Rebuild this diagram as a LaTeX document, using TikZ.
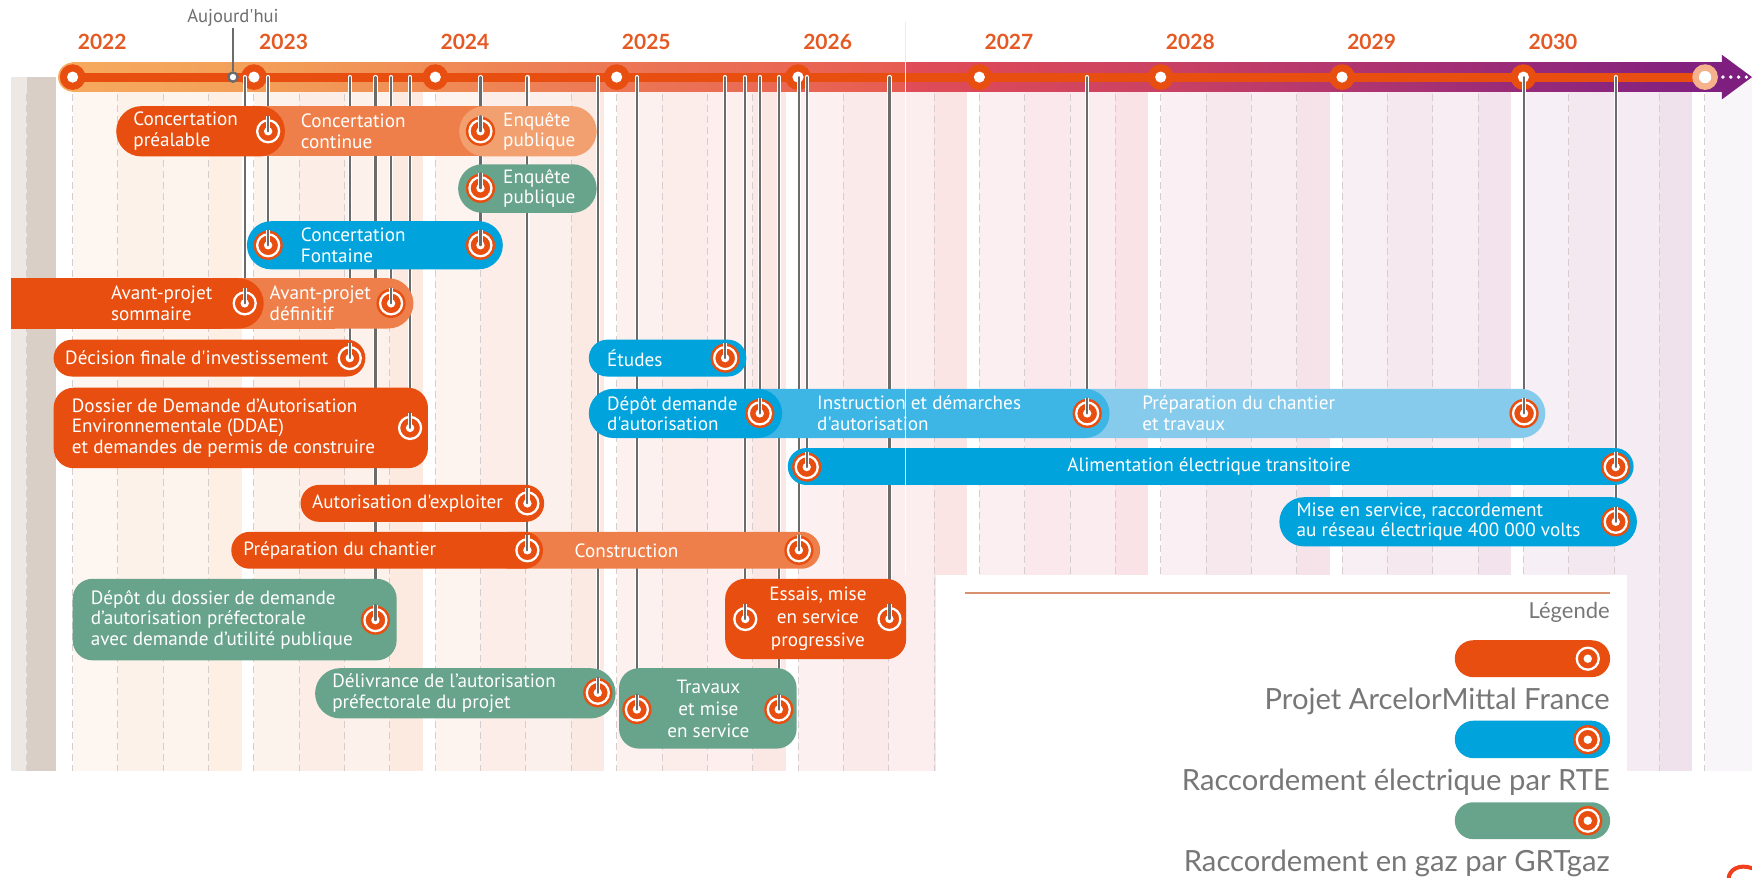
\documentclass[tikz,border=0pt]{standalone}
\usepackage{fontspec}
\setmainfont{PT Sans}[Ligatures=TeXOff]
\newfontfamily\latofont{Lato}[Ligatures=TeXOff]
\usetikzlibrary{calc}
\definecolor{aorange}{HTML}{E84E0F}
\definecolor{aorangem}{HTML}{EE7F4A}
\definecolor{aorangel}{HTML}{F2A06F}
\definecolor{agreen}{HTML}{68A38B}
\definecolor{ablue}{HTML}{00A3DC}
\definecolor{abluem}{HTML}{3DB5E5}
\definecolor{abluel}{HTML}{86CBEC}
\definecolor{lgray}{HTML}{6B6B6B}
\definecolor{txtgray}{HTML}{6E6E6E}
\definecolor{leggray}{HTML}{777777}
\definecolor{yearc}{HTML}{E55A24}
\definecolor{peach}{HTML}{F5B28C}
\definecolor{legline}{HTML}{D8906F}
\definecolor{logored}{HTML}{F0401E}
\definecolor{griddash}{HTML}{D6CECE}
\definecolor{bgla}{HTML}{EEE8E4}
\definecolor{bglb}{HTML}{D9CFC7}
\definecolor{bgright}{HTML}{F8F6F9}
\definecolor{seamgray}{HTML}{EBEBEB}
\definecolor{bg0}{HTML}{FCEBDD}
\definecolor{bg1}{HTML}{FBE5D8}
\definecolor{bg2}{HTML}{FAE3DC}
\definecolor{bg3}{HTML}{FAE1DE}
\definecolor{bg4}{HTML}{F9DEDE}
\definecolor{bg5}{HTML}{F7DCE1}
\definecolor{bg6}{HTML}{F3DCE4}
\definecolor{bg7}{HTML}{EFDCE7}
\definecolor{bg8}{HTML}{ECDBE8}
\definecolor{t0}{HTML}{F6AA5E}
\definecolor{t1}{HTML}{F39F59}
\definecolor{t2}{HTML}{EF8B55}
\definecolor{t3}{HTML}{EC7756}
\definecolor{t4}{HTML}{E96653}
\definecolor{t5}{HTML}{E65B52}
\definecolor{t6}{HTML}{E04C57}
\definecolor{t7}{HTML}{DB4959}
\definecolor{t8}{HTML}{CA4163}
\definecolor{t9}{HTML}{B2366E}
\definecolor{t10}{HTML}{982A79}
\definecolor{t11}{HTML}{7E1F80}
\tikzset{
  btxt/.style={text=white, font=\fontsize{9.6}{10.3}\selectfont, align=left, inner sep=0pt, anchor=west},
  yearlbl/.style={text=yearc, font=\latofont\bfseries\fontsize{10.5}{12}\selectfont, inner sep=0pt},
  aujtxt/.style={text=txtgray, font=\fontsize{9.3}{11}\selectfont, inner sep=0.5pt},
  aujmk/.style={circle, draw=lgray, line width=1.2pt, fill=white, minimum size=4.6pt, inner sep=0pt},
  legtxt/.style={text=leggray, font=\latofont\fontsize{14.6}{16}\selectfont, inner sep=0pt, anchor=east},
  legsmall/.style={text=leggray, font=\latofont\fontsize{11}{13}\selectfont, inner sep=0pt, anchor=east},
  conn/.style={draw=lgray, line width=1.1pt, line cap=round, preaction={draw=white, line width=2.2pt, line cap=round}},
  stub/.style={draw=lgray, line width=1.1pt, line cap=round, preaction={draw=white, line width=2.2pt, line cap=butt}},
  gridline/.style={draw=griddash, line width=0.5pt, dash pattern=on 3.5pt off 2pt},
  mk/.style={circle, fill=aorange, minimum size=14.6pt, inner sep=0pt,
    path picture={\draw[white, line width=1.15pt] (path picture bounding box.center) circle (5.5pt);
                  \fill[white] (path picture bounding box.center) circle (2.1pt);}}
}
\newcommand\pillbox[5]{%
  \pgfmathsetmacro\myrad{(#5-#4)*0.5*0.5587-0.01}%
  \fill[#1, rounded corners=\myrad pt] (#2,#4) rectangle (#3,#5);}
\newcommand\rbox[5]{\fill[#1, rounded corners=10pt] (#2,#4) rectangle (#3,#5);}
\begin{document}
\begin{tikzpicture}[x=0.5587pt, y=-0.5587pt]
\useasboundingbox (0,0) rectangle (1568,785);
\fill[white] (0,0) rectangle (1568,785);
% ---------- background columns
\fill[bgla] (10,69) rectangle (24,690);
\fill[bglb] (24,69) rectangle (50,690);
\foreach \i/\c in {0/bg0,1/bg1,2/bg2,3/bg3,4/bg4,5/bg5,6/bg6,7/bg7,8/bg8} {
  \pgfmathsetmacro\X{65+162.3*\i}
  \fill[\c!45!white] (\X,69) rectangle (\X+40.575,690);
  \fill[\c!65!white] (\X+40.575,69) rectangle (\X+81.15,690);
  \fill[\c!52!white] (\X+81.15,69) rectangle (\X+121.725,690);
  \fill[\c!80!white] (\X+121.725,69) rectangle (\X+151.3,690);
}
\fill[bgright] (1525.7,69) rectangle (1568,690);
% dashed grid
\draw[gridline] (24,84) -- (24,690);
\foreach \i in {0,...,8} \foreach \k in {0,1,2,3}
  \draw[gridline] ({65+162.3*\i+40.575*\k},84) -- ({65+162.3*\i+40.575*\k},690);
\draw[gridline] (1525.7,84) -- (1525.7,690);
% legend panel
\fill[white] (838,515) rectangle (1456,785);
% ---------- timeline bar
\fill[t0] (65,69) circle [radius=13];
\foreach \a/\b/\ca/\cb in {64/228.5/t0/t1, 228/390.5/t1/t2, 390/552.5/t2/t3, 552/715.5/t3/t4, 715/810.5/t4/t5, 810.3/876.5/t6/t7, 876/1038.5/t7/t8, 1038/1200.5/t8/t9, 1200/1363.5/t9/t10, 1363/1545/t10/t11}
  \shade[left color=\ca, right color=\cb] (\a,56) rectangle (\b,82);
\fill[t11] (1541,49) -- (1568,69) -- (1541,89) -- cycle;
\draw[aorange, line width=4.5pt] (65,69) -- (1526,69);
\foreach \i in {0,...,8} {
  \fill[aorange] ({65+162.3*\i},69) circle [radius=11.5];
  \fill[white] ({65+162.3*\i},69) circle [radius=5];
}
\fill[peach] (1526,69) circle [radius=11.5];
\fill[white] (1526,69) circle [radius=5.5];
\foreach \d in {1542,1549,1556,1563} \fill[white] (\d,69) circle [radius=1.7];
% seam
\draw[seamgray, line width=0.5pt] (810.5,20) -- (810.5,56);
% years
\foreach \i/\yr in {0/2022,1/2023,2/2024,3/2025,4/2026,5/2027,6/2028,7/2029,8/2030}
  \node[yearlbl] (yr\yr) at ({65+162.3*\i+26.5},37.5) {\yr};
% Aujourd'hui
\node[aujtxt] (auj) at (208.5,16) {Aujourd'hui};
\node[aujmk] (aujm) at (208.5,69) {};
\draw[lgray, line width=1.3pt] (auj.south) -- (aujm.north);
% ---------- marker positions
\foreach \n/\x/\y in {1/240/117.5, 2/430/117.5, 3/430/168.5, 4/240/219.5, 5/430/219.5, 6/219/271.5, 7/350/271.5, 8/313/320.5, 9/367/383, 10/472/450.5, 11/472/492.5, 12/715/492.5, 13/336/555, 14/535/620, 15/649/320.5, 16/680/370, 17/973/370, 18/1364/370, 19/722/418, 20/1446/418, 21/1446/467, 22/667/554, 23/796/554, 24/570/635, 25/697/635}
  \coordinate (c\n) at (\x,\y);
% connectors
\foreach \n/\x in {6/219, 4/240, 8/313, 13/336, 7/350, 9/367, 5/430, 11/472, 14/535, 24/570, 15/649, 22/667, 16/680, 25/697, 12/715, 19/722, 23/796, 17/973, 18/1364, 21/1446} {
  \coordinate (t\n) at (\x,69);
  \draw[conn] (t\n) -- (c\n);
}
% ---------- boxes
\fill[aorangem] (230,95) rectangle (440,140);
\pillbox{aorange}{104}{255}{95}{140}
\pillbox{aorangel}{411}{534}{95}{140}
\pillbox{agreen}{410}{534}{147}{190.5}
\pillbox{ablue}{221}{450}{198}{241}
\fill[aorangem] (200,249) rectangle (300,294);
\pillbox{aorangem}{222}{370}{249}{294}
\fill[aorange] (10,249) rectangle (200,294);
\pillbox{aorange}{150}{236}{249}{294}
\pillbox{aorange}{48}{327}{304}{337}
\rbox{aorange}{48}{383}{347}{419}
\pillbox{aorange}{269}{487}{434}{467}
\pillbox{aorangem}{440}{734}{476}{509}
\pillbox{aorange}{207}{486}{476}{509}
\rbox{agreen}{65}{355}{518}{591}
\pillbox{agreen}{282}{551}{598}{643}
\pillbox{ablue}{527}{668}{304}{337}
\pillbox{abluel}{900}{1383}{348}{392}
\pillbox{abluem}{600}{993}{348}{392}
\pillbox{ablue}{527}{700}{348}{392}
\pillbox{ablue}{705}{1462}{401}{434}
\pillbox{ablue}{1145}{1465}{445}{489}
\rbox{aorange}{649}{811}{518}{590}
\rbox{agreen}{554}{713}{598}{670}
% seam below bar
\draw[white, line width=0.6pt, opacity=0.9] (810.5,56) -- (810.5,515);
% ---------- texts
\node[btxt] (tx1) at (119,117.5) {Concertation\\préalable};
\node[btxt] (tx2) at (269,117.5) {Concertation\\continue};
\node[btxt] (tx3) at (450,117.5) {Enquête\\publique};
\node[btxt] (tx4) at (450,168.5) {Enquête\\publique};
\node[btxt] (tx5) at (269,219.5) {Concertation\\Fontaine};
\node[btxt] (tx6) at (99,271.5) {Avant-projet\\sommaire};
\node[btxt] (tx7) at (241,271.5) {Avant-projet\\définitif};
\node[btxt] (tx8) at (58,320.5) {Décision finale d'investissement};
\node[btxt] (tx9) at (64,383) {Dossier de Demande d’Autorisation\\Environnementale (DDAE)\\et demandes de permis de construire};
\node[btxt] (tx10) at (279,450.5) {Autorisation d'exploiter};
\node[btxt] (tx11) at (217.5,492.5) {Préparation du chantier};
\node[btxt] (tx12) at (514,492.5) {Construction};
\node[btxt] (tx13) at (81,554.5) {Dépôt du dossier de demande\\d’autorisation préfectorale\\avec demande d’utilité publique};
\node[btxt] (tx14) at (297,620.5) {Délivrance de l’autorisation\\préfectorale du projet};
\node[btxt] (tx15) at (543,320.5) {Études};
\node[btxt] (tx16) at (543,370) {Dépôt demande\\d'autorisation};
\node[btxt] (tx17) at (731,370) {Instruction et démarches\\d'autorisation};
\node[btxt] (tx18) at (1022,370) {Préparation du chantier\\et travaux};
\node[btxt, anchor=center] (tx19) at (1082,417.5) {Alimentation électrique transitoire};
\node[btxt] (tx20) at (1160,467) {Mise en service, raccordement\\au réseau électrique 400 000 volts};
\node[btxt, align=center, anchor=center, font=\fontsize{9.6}{11.6}\selectfont] (tx21) at (732,554) {Essais, mise\\en service\\progressive};
\node[btxt, align=center, anchor=center, font=\fontsize{9.6}{10.9}\selectfont] (tx22) at (634,634.5) {Travaux\\et mise\\en service};
% ---------- markers
\foreach \n in {1,...,25} {
  \node[mk] (m\n) at (c\n) {};
  \draw[stub] (m\n.north) -- (m\n.center);
}
% ---------- legend
\draw[legline, line width=1pt] (864,530.5) -- (1441,530.5);
\node[legsmall] (lg0) at (1441,548) {Légende};
\pillbox{aorange}{1302}{1441}{573}{606}
\node[mk] (lm1) at (1421,589.5) {};
\node[legtxt] (lg1) at (1441,628) {Projet ArcelorMittal France};
\pillbox{ablue}{1302}{1441}{645}{678.5}
\node[mk] (lm2) at (1421,662) {};
\node[legtxt] (lg2) at (1441,700.5) {Raccordement électrique par RTE};
\pillbox{agreen}{1302}{1441}{718}{751}
\node[mk] (lm3) at (1421,734.5) {};
\node[legtxt] (lg3) at (1441,772.5) {Raccordement en gaz par GRTgaz};
% logo fragment
\draw[logored, line width=2pt, line cap=round] (1547,787) .. controls (1547,778) and (1557,773) .. (1568,777);
\end{tikzpicture}
\end{document}
